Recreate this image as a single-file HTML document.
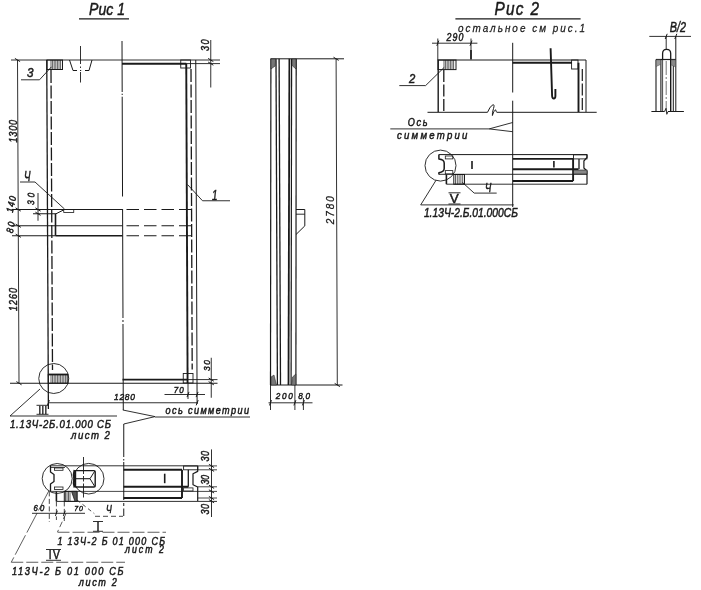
<!DOCTYPE html>
<html><head><meta charset="utf-8"><title>drawing</title>
<style>
html,body{margin:0;padding:0;background:#fff;}
svg{display:block;will-change:transform;}
text{font-family:"Liberation Sans",sans-serif;fill:#1a1a1a;stroke:#1a1a1a;}
</style></head><body>
<svg width="701" height="590" viewBox="0 0 701 590">
<rect x="0" y="0" width="701" height="590" fill="#ffffff"/>
<text transform="translate(89 15) rotate(0) scale(0.820 1)" font-size="17.18" font-style="italic" stroke-width="0.5">Рис 1</text>
<line x1="79" y1="18.8" x2="129" y2="18.8" stroke="#1a1a1a" stroke-width="1.3" stroke-linecap="butt"/>
<line x1="11" y1="60" x2="220" y2="60" stroke="#1a1a1a" stroke-width="0.9" stroke-linecap="butt"/>
<line x1="186" y1="63.6" x2="220" y2="63.6" stroke="#1a1a1a" stroke-width="0.9" stroke-linecap="butt"/>
<line x1="122" y1="63.8" x2="186.3" y2="63.8" stroke="#1a1a1a" stroke-width="1.9" stroke-linecap="butt"/>
<line x1="17.5" y1="60" x2="19" y2="383" stroke="#1a1a1a" stroke-width="0.9" stroke-linecap="butt"/>
<line x1="14.9" y1="58.4" x2="20.1" y2="61.6" stroke="#1a1a1a" stroke-width="1.0" stroke-linecap="butt"/>
<line x1="15.5877" y1="207.9" x2="20.7877" y2="211.1" stroke="#1a1a1a" stroke-width="1.0" stroke-linecap="butt"/>
<line x1="15.662450000000002" y1="224.15" x2="20.862450000000003" y2="227.35" stroke="#1a1a1a" stroke-width="1.0" stroke-linecap="butt"/>
<line x1="15.708450000000001" y1="234.15" x2="20.908450000000002" y2="237.35" stroke="#1a1a1a" stroke-width="1.0" stroke-linecap="butt"/>
<line x1="16.386719999999997" y1="381.59999999999997" x2="21.58672" y2="384.8" stroke="#1a1a1a" stroke-width="1.0" stroke-linecap="butt"/>
<line x1="46.75" y1="60" x2="48.4" y2="409" stroke="#1a1a1a" stroke-width="1.3" stroke-linecap="butt"/>
<line x1="51" y1="70" x2="52.5" y2="370" stroke="#1a1a1a" stroke-width="1.3" stroke-dasharray="13 2.5" stroke-linecap="butt"/>
<rect x="47" y="60" width="15.5" height="9.5" fill="none" stroke="#1a1a1a" stroke-width="1.0"/>
<line x1="51" y1="60" x2="51" y2="69.5" stroke="#1a1a1a" stroke-width="0.7" stroke-linecap="butt"/>
<line x1="52.6" y1="60" x2="52.6" y2="69.5" stroke="#1a1a1a" stroke-width="0.7" stroke-linecap="butt"/>
<line x1="54.2" y1="60" x2="54.2" y2="69.5" stroke="#1a1a1a" stroke-width="0.7" stroke-linecap="butt"/>
<line x1="55.8" y1="60" x2="55.8" y2="69.5" stroke="#1a1a1a" stroke-width="0.7" stroke-linecap="butt"/>
<line x1="57.4" y1="60" x2="57.4" y2="69.5" stroke="#1a1a1a" stroke-width="0.7" stroke-linecap="butt"/>
<line x1="59.0" y1="60" x2="59.0" y2="69.5" stroke="#1a1a1a" stroke-width="0.7" stroke-linecap="butt"/>
<line x1="60.6" y1="60" x2="60.6" y2="69.5" stroke="#1a1a1a" stroke-width="0.7" stroke-linecap="butt"/>
<text transform="translate(27 76.5) rotate(0) scale(0.881 1)" font-size="13.27" font-style="italic" stroke-width="0.5">3</text>
<path d="M21,79.8 L39.5,79.8 L51.5,66.8" fill="none" stroke="#1a1a1a" stroke-width="0.9" stroke-linejoin="round"/>
<line x1="69.5" y1="60" x2="73" y2="70.5" stroke="#1a1a1a" stroke-width="1.0" stroke-linecap="butt"/>
<line x1="92" y1="60" x2="89" y2="70.5" stroke="#1a1a1a" stroke-width="1.0" stroke-linecap="butt"/>
<line x1="73" y1="70.5" x2="77" y2="70.5" stroke="#1a1a1a" stroke-width="1.0" stroke-linecap="butt"/>
<line x1="80" y1="70.5" x2="81.2" y2="70.5" stroke="#1a1a1a" stroke-width="1.0" stroke-linecap="butt"/>
<line x1="85" y1="70.5" x2="89" y2="70.5" stroke="#1a1a1a" stroke-width="1.0" stroke-linecap="butt"/>
<line x1="80.5" y1="46" x2="80.5" y2="64" stroke="#1a1a1a" stroke-width="0.9" stroke-linecap="butt"/>
<line x1="80.5" y1="66.5" x2="80.5" y2="68" stroke="#1a1a1a" stroke-width="0.9" stroke-linecap="butt"/>
<line x1="80.5" y1="72" x2="80.5" y2="82.5" stroke="#1a1a1a" stroke-width="0.9" stroke-linecap="butt"/>
<line x1="122.0" y1="41" x2="122.1785" y2="92" stroke="#1a1a1a" stroke-width="1.0" stroke-linecap="butt"/>
<line x1="122.18445" y1="93.7" x2="122.189" y2="95" stroke="#1a1a1a" stroke-width="1.0" stroke-linecap="butt"/>
<line x1="122.19495" y1="96.7" x2="122.54425" y2="196.5" stroke="#1a1a1a" stroke-width="1.0" stroke-linecap="butt"/>
<line x1="122.588" y1="209" x2="122.9695" y2="318" stroke="#1a1a1a" stroke-width="1.0" stroke-linecap="butt"/>
<line x1="122.9765" y1="320" x2="122.9835" y2="322" stroke="#1a1a1a" stroke-width="1.0" stroke-linecap="butt"/>
<line x1="122.9905" y1="324" x2="123.2915" y2="410" stroke="#1a1a1a" stroke-width="1.0" stroke-linecap="butt"/>
<line x1="186.25" y1="63.8" x2="187.6" y2="383" stroke="#1a1a1a" stroke-width="1.9" stroke-linecap="butt"/>
<line x1="191" y1="69" x2="192.2" y2="369.5" stroke="#1a1a1a" stroke-width="1.3" stroke-dasharray="13 2.5" stroke-linecap="butt"/>
<line x1="195.75" y1="60" x2="197.1" y2="404" stroke="#1a1a1a" stroke-width="1.0" stroke-linecap="butt"/>
<rect x="180.75" y="60" width="9.75" height="8" fill="none" stroke="#1a1a1a" stroke-width="0.9"/>
<line x1="210.75" y1="40" x2="210.75" y2="87.5" stroke="#1a1a1a" stroke-width="0.9" stroke-linecap="butt"/>
<line x1="208.15" y1="58.4" x2="213.35" y2="61.6" stroke="#1a1a1a" stroke-width="1.0" stroke-linecap="butt"/>
<line x1="208.15" y1="62.0" x2="213.35" y2="65.2" stroke="#1a1a1a" stroke-width="1.0" stroke-linecap="butt"/>
<text transform="translate(208.6 51) rotate(-90) scale(0.860 1)" font-size="10.47" font-style="italic" stroke-width="0.5" textLength="13.4" lengthAdjust="spacing">30</text>
<line x1="11.5" y1="209.5" x2="122.5" y2="209.5" stroke="#1a1a1a" stroke-width="1.1" stroke-linecap="butt"/>
<line x1="126.5" y1="209.5" x2="196" y2="209.5" stroke="#1a1a1a" stroke-width="1.1" stroke-dasharray="12.5 5" stroke-linecap="butt"/>
<line x1="33" y1="213.75" x2="56" y2="213.75" stroke="#1a1a1a" stroke-width="1.0" stroke-linecap="butt"/>
<line x1="56" y1="213.75" x2="64.5" y2="209.5" stroke="#1a1a1a" stroke-width="1.0" stroke-linecap="butt"/>
<rect x="63.75" y="209.5" width="10.0" height="3.0" fill="none" stroke="#1a1a1a" stroke-width="0.8"/>
<line x1="55.5" y1="213.75" x2="55.5" y2="235.75" stroke="#1a1a1a" stroke-width="1.6" stroke-linecap="butt"/>
<line x1="11.5" y1="225.75" x2="122.5" y2="225.75" stroke="#1a1a1a" stroke-width="1.1" stroke-linecap="butt"/>
<line x1="126.5" y1="225.75" x2="196" y2="225.75" stroke="#1a1a1a" stroke-width="1.1" stroke-dasharray="12.5 5" stroke-linecap="butt"/>
<line x1="12" y1="235.75" x2="55.5" y2="235.75" stroke="#1a1a1a" stroke-width="1.0" stroke-linecap="butt"/>
<line x1="55.5" y1="235.75" x2="122.5" y2="235.75" stroke="#1a1a1a" stroke-width="1.6" stroke-linecap="butt"/>
<line x1="126.5" y1="235.75" x2="196" y2="235.75" stroke="#1a1a1a" stroke-width="1.1" stroke-dasharray="12.5 5" stroke-linecap="butt"/>
<line x1="38" y1="193" x2="38" y2="220.75" stroke="#1a1a1a" stroke-width="0.9" stroke-linecap="butt"/>
<line x1="35.4" y1="207.9" x2="40.6" y2="211.1" stroke="#1a1a1a" stroke-width="1.0" stroke-linecap="butt"/>
<line x1="35.4" y1="212.15" x2="40.6" y2="215.35" stroke="#1a1a1a" stroke-width="1.0" stroke-linecap="butt"/>
<text transform="translate(34 205) rotate(-88) scale(0.860 1)" font-size="9.50" font-style="italic" stroke-width="0.5" textLength="14.0" lengthAdjust="spacing">30</text>
<text transform="translate(12.8 213) rotate(-78) scale(0.860 1)" font-size="9.78" font-style="italic" stroke-width="0.5" textLength="19.2" lengthAdjust="spacing">140</text>
<text transform="translate(12.8 233.5) rotate(-78) scale(0.860 1)" font-size="9.78" font-style="italic" stroke-width="0.5" textLength="12.8" lengthAdjust="spacing">80</text>
<text transform="translate(24 181) rotate(0) scale(0.691 1)" font-size="13.97" font-style="italic" stroke-width="0.5">Ч</text>
<path d="M20,182 L35,182 L64.5,209" fill="none" stroke="#1a1a1a" stroke-width="0.9" stroke-linejoin="round"/>
<path d="M187.5,184.5 L202.5,200.75 L230,200.75" fill="none" stroke="#1a1a1a" stroke-width="0.9" stroke-linejoin="round"/>
<text transform="translate(212 199.5) rotate(0) scale(0.644 1)" font-size="15.36" font-style="italic" stroke-width="0.5">1</text>
<text transform="translate(17.2 142.5) rotate(-90) scale(0.860 1)" font-size="10.47" font-style="italic" stroke-width="0.5" textLength="26.2" lengthAdjust="spacing">1300</text>
<text transform="translate(17.2 311) rotate(-90) scale(0.860 1)" font-size="10.47" font-style="italic" stroke-width="0.5" textLength="26.7" lengthAdjust="spacing">1260</text>
<line x1="10" y1="383.25" x2="217.5" y2="383.25" stroke="#1a1a1a" stroke-width="1.0" stroke-linecap="butt"/>
<line x1="122.5" y1="379.6" x2="187.5" y2="379.6" stroke="#1a1a1a" stroke-width="1.9" stroke-linecap="butt"/>
<line x1="187.5" y1="379.6" x2="217.5" y2="379.6" stroke="#1a1a1a" stroke-width="0.9" stroke-linecap="butt"/>
<rect x="183.25" y="373.5" width="9.75" height="9.5" fill="none" stroke="#1a1a1a" stroke-width="0.9"/>
<circle cx="53.75" cy="378.5" r="15" fill="none" stroke="#1a1a1a" stroke-width="0.9"/>
<rect x="48.25" y="374.5" width="19.75" height="8.75" fill="none" stroke="#1a1a1a" stroke-width="1.0"/>
<line x1="48.25" y1="374.5" x2="68" y2="374.5" stroke="#1a1a1a" stroke-width="1.8" stroke-linecap="butt"/>
<line x1="51" y1="374.5" x2="51" y2="383.25" stroke="#1a1a1a" stroke-width="0.7" stroke-linecap="butt"/>
<line x1="52.6" y1="374.5" x2="52.6" y2="383.25" stroke="#1a1a1a" stroke-width="0.7" stroke-linecap="butt"/>
<line x1="54.2" y1="374.5" x2="54.2" y2="383.25" stroke="#1a1a1a" stroke-width="0.7" stroke-linecap="butt"/>
<line x1="55.8" y1="374.5" x2="55.8" y2="383.25" stroke="#1a1a1a" stroke-width="0.7" stroke-linecap="butt"/>
<line x1="57.4" y1="374.5" x2="57.4" y2="383.25" stroke="#1a1a1a" stroke-width="0.7" stroke-linecap="butt"/>
<line x1="59.0" y1="374.5" x2="59.0" y2="383.25" stroke="#1a1a1a" stroke-width="0.7" stroke-linecap="butt"/>
<line x1="60.6" y1="374.5" x2="60.6" y2="383.25" stroke="#1a1a1a" stroke-width="0.7" stroke-linecap="butt"/>
<line x1="62.2" y1="374.5" x2="62.2" y2="383.25" stroke="#1a1a1a" stroke-width="0.7" stroke-linecap="butt"/>
<line x1="63.8" y1="374.5" x2="63.8" y2="383.25" stroke="#1a1a1a" stroke-width="0.7" stroke-linecap="butt"/>
<line x1="65.4" y1="374.5" x2="65.4" y2="383.25" stroke="#1a1a1a" stroke-width="0.7" stroke-linecap="butt"/>
<line x1="67.0" y1="374.5" x2="67.0" y2="383.25" stroke="#1a1a1a" stroke-width="0.7" stroke-linecap="butt"/>
<line x1="40" y1="389" x2="10" y2="416" stroke="#1a1a1a" stroke-width="0.9" stroke-linecap="butt"/>
<line x1="10" y1="416" x2="117" y2="416" stroke="#1a1a1a" stroke-width="0.9" stroke-linecap="butt"/>
<text transform="translate(38.5 413.7) rotate(0) scale(0.860 1)" font-size="10.47" font-style="normal" stroke-width="0.5" textLength="9.9" lengthAdjust="spacing">III</text>
<line x1="36.5" y1="405.3" x2="48.5" y2="405.3" stroke="#1a1a1a" stroke-width="0.9" stroke-linecap="butt"/>
<line x1="36.5" y1="414.3" x2="48.5" y2="414.3" stroke="#1a1a1a" stroke-width="0.9" stroke-linecap="butt"/>
<text transform="translate(10 428) rotate(0) scale(0.860 1)" font-size="11.17" font-style="italic" stroke-width="0.5" textLength="117.4" lengthAdjust="spacing">1.13Ч-2Б.01.000 СБ</text>
<text transform="translate(71 438.5) rotate(0) scale(0.860 1)" font-size="11.18" font-style="italic" stroke-width="0.5" textLength="45.3" lengthAdjust="spacing">лист 2</text>
<line x1="48.25" y1="402.75" x2="197.5" y2="402.75" stroke="#1a1a1a" stroke-width="0.9" stroke-linecap="butt"/>
<line x1="47.4" y1="405.35" x2="49.4" y2="400.15" stroke="#1a1a1a" stroke-width="1.0" stroke-linecap="butt"/>
<line x1="196.2" y1="405.35" x2="198.2" y2="400.15" stroke="#1a1a1a" stroke-width="1.0" stroke-linecap="butt"/>
<text transform="translate(114 400) rotate(0) scale(0.860 1)" font-size="9.78" font-style="italic" stroke-width="0.5" textLength="24.4" lengthAdjust="spacing">1280</text>
<line x1="211.25" y1="357.75" x2="211.25" y2="397.75" stroke="#1a1a1a" stroke-width="0.9" stroke-linecap="butt"/>
<line x1="208.65" y1="378.0" x2="213.85" y2="381.20000000000005" stroke="#1a1a1a" stroke-width="1.0" stroke-linecap="butt"/>
<line x1="208.65" y1="381.65" x2="213.85" y2="384.85" stroke="#1a1a1a" stroke-width="1.0" stroke-linecap="butt"/>
<text transform="translate(210 371) rotate(-90) scale(0.860 1)" font-size="9.78" font-style="italic" stroke-width="0.5" textLength="12.8" lengthAdjust="spacing">30</text>
<line x1="164.5" y1="394.5" x2="205" y2="394.5" stroke="#1a1a1a" stroke-width="0.9" stroke-linecap="butt"/>
<line x1="188" y1="383" x2="188" y2="399" stroke="#1a1a1a" stroke-width="0.9" stroke-linecap="butt"/>
<line x1="187.0" y1="397.1" x2="189.0" y2="391.9" stroke="#1a1a1a" stroke-width="1.0" stroke-linecap="butt"/>
<line x1="196.1" y1="397.1" x2="198.1" y2="391.9" stroke="#1a1a1a" stroke-width="1.0" stroke-linecap="butt"/>
<text transform="translate(173.75 392.7) rotate(0) scale(0.860 1)" font-size="9.36" font-style="italic" stroke-width="0.5" textLength="11.6" lengthAdjust="spacing">70</text>
<path d="M122.8,410 L155,416.6 L123.75,424" fill="none" stroke="#1a1a1a" stroke-width="0.9" stroke-linejoin="round"/>
<line x1="155" y1="417" x2="250" y2="417" stroke="#1a1a1a" stroke-width="0.9" stroke-linecap="butt"/>
<text transform="translate(165.5 414) rotate(0) scale(0.860 1)" font-size="10.60" font-style="italic" stroke-width="0.5" textLength="97.1" lengthAdjust="spacing">ось симметрии</text>
<line x1="123.75" y1="424" x2="123.75" y2="457" stroke="#1a1a1a" stroke-width="1.0" stroke-linecap="butt"/>
<line x1="123.75" y1="459" x2="123.75" y2="460.5" stroke="#1a1a1a" stroke-width="1.0" stroke-linecap="butt"/>
<line x1="123.75" y1="462" x2="123.75" y2="500" stroke="#1a1a1a" stroke-width="1.0" stroke-linecap="butt"/>
<line x1="123.75" y1="503" x2="123.75" y2="506" stroke="#1a1a1a" stroke-width="1.0" stroke-linecap="butt"/>
<line x1="123.75" y1="508.5" x2="123.75" y2="516" stroke="#1a1a1a" stroke-width="1.0" stroke-linecap="butt"/>
<line x1="50" y1="465.8" x2="197.7" y2="465.8" stroke="#1a1a1a" stroke-width="0.9" stroke-linecap="butt"/>
<path d="M50.5,465.6 L50.5,472 L54,474.5 L54,481.5 L50.5,484 L50.5,491" fill="none" stroke="#1a1a1a" stroke-width="1.3" stroke-linejoin="round"/>
<rect x="54.5" y="468" width="8.5" height="2.3000000000000114" fill="none" stroke="#1a1a1a" stroke-width="0.8"/>
<line x1="51" y1="467.5" x2="65" y2="467.5" stroke="#1a1a1a" stroke-width="0.8" stroke-linecap="butt"/>
<rect x="54.5" y="487" width="8.5" height="2.5" fill="none" stroke="#1a1a1a" stroke-width="0.8"/>
<circle cx="57.2" cy="478.5" r="15" fill="none" stroke="#1a1a1a" stroke-width="0.9"/>
<circle cx="88.7" cy="478.7" r="15.3" fill="none" stroke="#1a1a1a" stroke-width="0.9"/>
<path d="M75.5,470.6 L94,470.6 Q95.2,470.6 95.2,471.8 L95.2,485.8 Q95.2,487 94,487 L75.5,487 Z" fill="none" stroke="#1a1a1a" stroke-width="1.4" stroke-linejoin="round"/>
<line x1="75" y1="478.7" x2="90" y2="478.7" stroke="#1a1a1a" stroke-width="1.1" stroke-linecap="butt"/>
<line x1="90" y1="478.7" x2="94.8" y2="471" stroke="#1a1a1a" stroke-width="1.0" stroke-linecap="butt"/>
<line x1="90" y1="478.7" x2="94.8" y2="486.6" stroke="#1a1a1a" stroke-width="1.0" stroke-linecap="butt"/>
<path d="M74.5,470 Q73,474.5 74.5,478.7 Q73,483 74.5,487.5" fill="none" stroke="#1a1a1a" stroke-width="2.0" stroke-linejoin="round"/>
<line x1="83.5" y1="457" x2="83.5" y2="474" stroke="#1a1a1a" stroke-width="0.9" stroke-linecap="butt"/>
<line x1="83.5" y1="476" x2="83.5" y2="481.5" stroke="#1a1a1a" stroke-width="0.9" stroke-linecap="butt"/>
<line x1="83.5" y1="483.5" x2="83.5" y2="497.5" stroke="#1a1a1a" stroke-width="0.9" stroke-linecap="butt"/>
<line x1="50" y1="491.4" x2="217" y2="491.4" stroke="#1a1a1a" stroke-width="0.8" stroke-linecap="butt"/>
<line x1="56.4" y1="501.4" x2="217" y2="501.4" stroke="#1a1a1a" stroke-width="0.9" stroke-linecap="butt"/>
<rect x="64.3" y="491.4" width="12.700000000000003" height="10.0" fill="none" stroke="#1a1a1a" stroke-width="1.0"/>
<line x1="65.5" y1="491.4" x2="65.5" y2="501.4" stroke="#1a1a1a" stroke-width="0.7" stroke-linecap="butt"/>
<line x1="67.0" y1="491.4" x2="67.0" y2="501.4" stroke="#1a1a1a" stroke-width="0.7" stroke-linecap="butt"/>
<line x1="68.5" y1="491.4" x2="68.5" y2="501.4" stroke="#1a1a1a" stroke-width="0.7" stroke-linecap="butt"/>
<line x1="70.0" y1="491.4" x2="70.0" y2="501.4" stroke="#1a1a1a" stroke-width="0.7" stroke-linecap="butt"/>
<path d="M71.5,491.4 L77,491.4 L77,501.4 L75,501.4 Z" fill="#555" stroke="#1a1a1a" stroke-width="0.8" stroke-linejoin="round"/>
<line x1="56.4" y1="491.4" x2="56.4" y2="501.4" stroke="#1a1a1a" stroke-width="1.6" stroke-linecap="butt"/>
<line x1="49.3" y1="491.4" x2="49.3" y2="522" stroke="#1a1a1a" stroke-width="0.8" stroke-dasharray="5 2.5" stroke-linecap="butt"/>
<line x1="56.4" y1="501.4" x2="56.4" y2="520" stroke="#1a1a1a" stroke-width="0.8" stroke-dasharray="5 2.5" stroke-linecap="butt"/>
<line x1="64.3" y1="501.4" x2="64.3" y2="521" stroke="#1a1a1a" stroke-width="0.8" stroke-dasharray="5 2.5" stroke-linecap="butt"/>
<text transform="translate(33.6 510.7) rotate(0) scale(0.860 1)" font-size="8.94" font-style="italic" stroke-width="0.5" textLength="12.4" lengthAdjust="spacing">60</text>
<line x1="32" y1="513.3" x2="85" y2="513.3" stroke="#1a1a1a" stroke-width="0.9" stroke-linecap="butt"/>
<line x1="55.4" y1="515.9" x2="57.4" y2="510.69999999999993" stroke="#1a1a1a" stroke-width="1.0" stroke-linecap="butt"/>
<line x1="63.3" y1="515.9" x2="65.3" y2="510.69999999999993" stroke="#1a1a1a" stroke-width="1.0" stroke-linecap="butt"/>
<text transform="translate(74.3 510.7) rotate(0) scale(0.860 1)" font-size="8.10" font-style="italic" stroke-width="0.5" textLength="10.0" lengthAdjust="spacing">70</text>
<text transform="translate(106 512.8) rotate(0) scale(0.771 1)" font-size="11.17" font-style="italic" stroke-width="0.5">Ч</text>
<path d="M77,500 L94.3,513.6" fill="none" stroke="#1a1a1a" stroke-width="0.8" stroke-dasharray="4 3" stroke-linejoin="round"/>
<line x1="95" y1="516.3" x2="123" y2="516.3" stroke="#1a1a1a" stroke-width="0.8" stroke-dasharray="5 3" stroke-linecap="butt"/>
<line x1="123.5" y1="469.8" x2="182" y2="469.8" stroke="#1a1a1a" stroke-width="1.9" stroke-linecap="butt"/>
<line x1="123.5" y1="486.8" x2="188.3" y2="486.8" stroke="#1a1a1a" stroke-width="1.9" stroke-linecap="butt"/>
<line x1="123.5" y1="498" x2="182" y2="498" stroke="#1a1a1a" stroke-width="1.9" stroke-linecap="butt"/>
<line x1="182" y1="469.8" x2="182" y2="498" stroke="#1a1a1a" stroke-width="1.9" stroke-linecap="butt"/>
<line x1="188.3" y1="469.8" x2="188.3" y2="486.8" stroke="#1a1a1a" stroke-width="1.3" stroke-linecap="butt"/>
<path d="M197.7,465.9 L197.7,471.4 L193,473.7 L193,484.7 L197.7,487 L197.7,500.9" fill="none" stroke="#1a1a1a" stroke-width="1.2" stroke-linejoin="round"/>
<rect x="183.6" y="466" width="14.099999999999994" height="3.8000000000000114" fill="none" stroke="#1a1a1a" stroke-width="0.9"/>
<rect x="183.6" y="487.9" width="9.400000000000006" height="3.1000000000000227" fill="none" stroke="#1a1a1a" stroke-width="0.8"/>
<line x1="164.7" y1="473.7" x2="164.7" y2="483.2" stroke="#1a1a1a" stroke-width="1.6" stroke-linecap="butt"/>
<line x1="211.5" y1="449.4" x2="211.5" y2="517" stroke="#1a1a1a" stroke-width="0.9" stroke-linecap="butt"/>
<line x1="208.9" y1="464.29999999999995" x2="214.1" y2="467.5" stroke="#1a1a1a" stroke-width="1.0" stroke-linecap="butt"/>
<line x1="208.9" y1="468.2" x2="214.1" y2="471.40000000000003" stroke="#1a1a1a" stroke-width="1.0" stroke-linecap="butt"/>
<line x1="208.9" y1="485.2" x2="214.1" y2="488.40000000000003" stroke="#1a1a1a" stroke-width="1.0" stroke-linecap="butt"/>
<line x1="208.9" y1="489.79999999999995" x2="214.1" y2="493.0" stroke="#1a1a1a" stroke-width="1.0" stroke-linecap="butt"/>
<line x1="208.9" y1="496.4" x2="214.1" y2="499.6" stroke="#1a1a1a" stroke-width="1.0" stroke-linecap="butt"/>
<line x1="208.9" y1="499.59999999999997" x2="214.1" y2="502.8" stroke="#1a1a1a" stroke-width="1.0" stroke-linecap="butt"/>
<line x1="197.7" y1="465.9" x2="217" y2="465.9" stroke="#1a1a1a" stroke-width="0.8" stroke-linecap="butt"/>
<line x1="197.7" y1="469.8" x2="217" y2="469.8" stroke="#1a1a1a" stroke-width="0.8" stroke-linecap="butt"/>
<line x1="197.7" y1="486.8" x2="217" y2="486.8" stroke="#1a1a1a" stroke-width="0.8" stroke-linecap="butt"/>
<line x1="197.7" y1="498" x2="217" y2="498" stroke="#1a1a1a" stroke-width="0.8" stroke-linecap="butt"/>
<text transform="translate(208.6 461.5) rotate(-90) scale(0.860 1)" font-size="10.47" font-style="italic" stroke-width="0.5" textLength="12.2" lengthAdjust="spacing">30</text>
<text transform="translate(208.6 484.5) rotate(-90) scale(0.815 1)" font-size="10.47" font-style="italic" stroke-width="0.5">30</text>
<text transform="translate(208.6 514.5) rotate(-90) scale(0.860 1)" font-size="10.47" font-style="italic" stroke-width="0.5" textLength="12.2" lengthAdjust="spacing">30</text>
<line x1="48.75" y1="491" x2="11.25" y2="562.25" stroke="#1a1a1a" stroke-width="0.7" stroke-dasharray="22 3" stroke-linecap="butt"/>
<line x1="11.25" y1="562.25" x2="125" y2="562.25" stroke="#1a1a1a" stroke-width="0.7" stroke-dasharray="12 3" stroke-linecap="butt"/>
<text transform="translate(48.75 559.3) rotate(0) scale(0.860 1)" font-size="11.87" font-style="normal" stroke-width="0.5" textLength="13.0" lengthAdjust="spacing">IV</text>
<line x1="46" y1="549.5" x2="61" y2="549.5" stroke="#1a1a1a" stroke-width="0.9" stroke-linecap="butt"/>
<line x1="46" y1="560.3" x2="61" y2="560.3" stroke="#1a1a1a" stroke-width="0.9" stroke-linecap="butt"/>
<text transform="translate(12 575.2) rotate(0) scale(0.860 1)" font-size="10.75" font-style="italic" stroke-width="0.5" textLength="129.7" lengthAdjust="spacing">113Ч-2 Б 01 000 СБ</text>
<text transform="translate(78.75 586) rotate(0) scale(0.860 1)" font-size="10.60" font-style="italic" stroke-width="0.5" textLength="44.2" lengthAdjust="spacing">лист 2</text>
<line x1="66" y1="513.5" x2="57.5" y2="532" stroke="#1a1a1a" stroke-width="0.7" stroke-dasharray="6 3" stroke-linecap="butt"/>
<line x1="57.5" y1="532.25" x2="166" y2="532.25" stroke="#1a1a1a" stroke-width="0.7" stroke-dasharray="12 3" stroke-linecap="butt"/>
<text transform="translate(96.5 530.7) rotate(0) scale(0.910 1)" font-size="11.87" font-style="normal" stroke-width="0.5">I</text>
<line x1="93" y1="521.5" x2="103" y2="521.5" stroke="#1a1a1a" stroke-width="0.9" stroke-linecap="butt"/>
<line x1="93" y1="531.3" x2="103" y2="531.3" stroke="#1a1a1a" stroke-width="0.9" stroke-linecap="butt"/>
<text transform="translate(57.5 544.75) rotate(0) scale(0.860 1)" font-size="10.47" font-style="italic" stroke-width="0.5" textLength="125.0" lengthAdjust="spacing">1 13Ч-2 Б 01 000 СБ</text>
<text transform="translate(125 552.8) rotate(0) scale(0.860 1)" font-size="10.21" font-style="italic" stroke-width="0.5" textLength="45.3" lengthAdjust="spacing">лист 2</text>
<line x1="270.5" y1="58.8" x2="344" y2="58.8" stroke="#1a1a1a" stroke-width="1.0" stroke-linecap="butt"/>
<line x1="270.5" y1="385" x2="342.5" y2="385" stroke="#1a1a1a" stroke-width="1.0" stroke-linecap="butt"/>
<line x1="270.9" y1="58.8" x2="270.5" y2="385" stroke="#1a1a1a" stroke-width="1.2" stroke-linecap="butt"/>
<line x1="276" y1="58.8" x2="277.4" y2="385" stroke="#1a1a1a" stroke-width="1.3" stroke-linecap="butt"/>
<line x1="279.1" y1="58.8" x2="280.5" y2="385" stroke="#1a1a1a" stroke-width="1.3" stroke-linecap="butt"/>
<line x1="289.4" y1="58.8" x2="288.5" y2="385" stroke="#1a1a1a" stroke-width="1.8" stroke-linecap="butt"/>
<line x1="291.6" y1="58.8" x2="291.1" y2="385" stroke="#1a1a1a" stroke-width="1.2" stroke-linecap="butt"/>
<line x1="296.2" y1="58.8" x2="295.9" y2="385" stroke="#1a1a1a" stroke-width="1.2" stroke-linecap="butt"/>
<path d="M271,59 L275.6,59 L275.2,66 L271,69 Z" fill="#777" stroke="#1a1a1a" stroke-width="0.5" stroke-linejoin="round"/>
<path d="M292,59 L296,59 L296,69 L292.5,66 Z" fill="#777" stroke="#1a1a1a" stroke-width="0.5" stroke-linejoin="round"/>
<path d="M271,385 L271,377 L274,375 L276.5,385 Z" fill="#777" stroke="#1a1a1a" stroke-width="0.5" stroke-linejoin="round"/>
<path d="M291.5,385 L292.5,377 L295.8,374 L295.8,385 Z" fill="#777" stroke="#1a1a1a" stroke-width="0.5" stroke-linejoin="round"/>
<path d="M296,209.5 L304.8,209.5 L304.8,225.9 L296,234.5" fill="none" stroke="#1a1a1a" stroke-width="1.0" stroke-linejoin="round"/>
<line x1="296" y1="214.2" x2="304.8" y2="214.2" stroke="#1a1a1a" stroke-width="0.9" stroke-linecap="butt"/>
<line x1="336.1" y1="58.8" x2="337.3" y2="385" stroke="#1a1a1a" stroke-width="0.9" stroke-linecap="butt"/>
<line x1="333.5" y1="57.199999999999996" x2="338.70000000000005" y2="60.4" stroke="#1a1a1a" stroke-width="1.0" stroke-linecap="butt"/>
<line x1="334.7" y1="383.4" x2="339.90000000000003" y2="386.6" stroke="#1a1a1a" stroke-width="1.0" stroke-linecap="butt"/>
<text transform="translate(333.7 224.3) rotate(-90) scale(0.860 1)" font-size="11.59" font-style="italic" stroke-width="0.3" textLength="32.6" lengthAdjust="spacing">2780</text>
<line x1="270.5" y1="385" x2="270.5" y2="410" stroke="#1a1a1a" stroke-width="0.9" stroke-linecap="butt"/>
<line x1="294.9" y1="385" x2="294.9" y2="410" stroke="#1a1a1a" stroke-width="0.9" stroke-linecap="butt"/>
<line x1="303.4" y1="398" x2="303.4" y2="410" stroke="#1a1a1a" stroke-width="0.9" stroke-linecap="butt"/>
<line x1="268.5" y1="402.8" x2="312.5" y2="402.8" stroke="#1a1a1a" stroke-width="0.9" stroke-linecap="butt"/>
<line x1="269.5" y1="405.40000000000003" x2="271.5" y2="400.2" stroke="#1a1a1a" stroke-width="1.0" stroke-linecap="butt"/>
<line x1="293.9" y1="405.40000000000003" x2="295.9" y2="400.2" stroke="#1a1a1a" stroke-width="1.0" stroke-linecap="butt"/>
<line x1="302.4" y1="405.40000000000003" x2="304.4" y2="400.2" stroke="#1a1a1a" stroke-width="1.0" stroke-linecap="butt"/>
<text transform="translate(275.7 399) rotate(0) scale(0.860 1)" font-size="9.50" font-style="italic" stroke-width="0.5" textLength="19.8" lengthAdjust="spacing">200</text>
<text transform="translate(298.3 399) rotate(0) scale(0.860 1)" font-size="9.50" font-style="italic" stroke-width="0.5" textLength="13.6" lengthAdjust="spacing">80</text>
<text transform="translate(494.5 15) rotate(0) scale(0.860 1)" font-size="17.88" font-style="italic" stroke-width="0.5" textLength="51.7" lengthAdjust="spacing">Рис 2</text>
<line x1="455.4" y1="18.8" x2="580.6" y2="18.8" stroke="#1a1a1a" stroke-width="1.3" stroke-linecap="butt"/>
<text transform="translate(458 32) rotate(0) scale(0.860 1)" font-size="11.56" font-style="italic" stroke-width="0.25" textLength="147.7" lengthAdjust="spacing">остальное см рис.1</text>
<line x1="432" y1="43.2" x2="477.4" y2="43.2" stroke="#1a1a1a" stroke-width="0.9" stroke-linecap="butt"/>
<line x1="436.8" y1="45.800000000000004" x2="438.8" y2="40.6" stroke="#1a1a1a" stroke-width="1.0" stroke-linecap="butt"/>
<line x1="470.0" y1="45.800000000000004" x2="472.0" y2="40.6" stroke="#1a1a1a" stroke-width="1.0" stroke-linecap="butt"/>
<text transform="translate(446.4 40.7) rotate(0) scale(0.860 1)" font-size="10.20" font-style="italic" stroke-width="0.5" textLength="19.9" lengthAdjust="spacing">290</text>
<line x1="437.8" y1="38.5" x2="437.8" y2="60" stroke="#1a1a1a" stroke-width="0.9" stroke-linecap="butt"/>
<line x1="471" y1="38.5" x2="471" y2="50" stroke="#1a1a1a" stroke-width="0.9" stroke-linecap="butt"/>
<line x1="471" y1="50" x2="471" y2="59.5" stroke="#1a1a1a" stroke-width="1.8" stroke-linecap="butt"/>
<line x1="437.8" y1="60" x2="586" y2="60" stroke="#1a1a1a" stroke-width="1.0" stroke-linecap="butt"/>
<line x1="438.2" y1="60" x2="438.2" y2="112" stroke="#1a1a1a" stroke-width="1.4" stroke-linecap="butt"/>
<line x1="443.8" y1="70" x2="443.8" y2="112" stroke="#1a1a1a" stroke-width="1.3" stroke-dasharray="12 2.5" stroke-linecap="butt"/>
<rect x="438" y="60" width="18" height="9.599999999999994" fill="none" stroke="#1a1a1a" stroke-width="1.0"/>
<line x1="444" y1="60" x2="444" y2="69.6" stroke="#1a1a1a" stroke-width="0.7" stroke-linecap="butt"/>
<line x1="445.6" y1="60" x2="445.6" y2="69.6" stroke="#1a1a1a" stroke-width="0.7" stroke-linecap="butt"/>
<line x1="447.2" y1="60" x2="447.2" y2="69.6" stroke="#1a1a1a" stroke-width="0.7" stroke-linecap="butt"/>
<line x1="448.8" y1="60" x2="448.8" y2="69.6" stroke="#1a1a1a" stroke-width="0.7" stroke-linecap="butt"/>
<line x1="450.4" y1="60" x2="450.4" y2="69.6" stroke="#1a1a1a" stroke-width="0.7" stroke-linecap="butt"/>
<line x1="452.0" y1="60" x2="452.0" y2="69.6" stroke="#1a1a1a" stroke-width="0.7" stroke-linecap="butt"/>
<line x1="453.6" y1="60" x2="453.6" y2="69.6" stroke="#1a1a1a" stroke-width="0.7" stroke-linecap="butt"/>
<text transform="translate(409 83) rotate(0) scale(0.901 1)" font-size="12.57" font-style="italic" stroke-width="0.5">2</text>
<path d="M399.3,85.6 L425.6,85.6 L444.2,67.4" fill="none" stroke="#1a1a1a" stroke-width="0.9" stroke-linejoin="round"/>
<line x1="427.5" y1="112.3" x2="487.5" y2="112.3" stroke="#1a1a1a" stroke-width="1.0" stroke-linecap="butt"/>
<path d="M487.5,112.3 Q490,106 493,104.7 Q494.8,104.5 493.5,108.5 Q492,113 492.4,115.5 Q493.5,110.5 495.7,109.8 Q496,112.3 497,112.3" fill="none" stroke="#1a1a1a" stroke-width="1.0" stroke-linejoin="round"/>
<line x1="497" y1="112.3" x2="596.7" y2="112.3" stroke="#1a1a1a" stroke-width="1.0" stroke-linecap="butt"/>
<line x1="512.7" y1="42.8" x2="512.7" y2="92.5" stroke="#1a1a1a" stroke-width="1.0" stroke-linecap="butt"/>
<line x1="512.7" y1="100.7" x2="512.7" y2="207" stroke="#1a1a1a" stroke-width="1.0" stroke-linecap="butt"/>
<line x1="512.5" y1="62.7" x2="572" y2="62.7" stroke="#1a1a1a" stroke-width="1.9" stroke-linecap="butt"/>
<rect x="571.6" y="60" width="6.399999999999977" height="9" fill="none" stroke="#1a1a1a" stroke-width="0.9"/>
<line x1="578.5" y1="62.7" x2="578.5" y2="112" stroke="#1a1a1a" stroke-width="1.9" stroke-linecap="butt"/>
<line x1="582.3" y1="69" x2="582.3" y2="112" stroke="#1a1a1a" stroke-width="1.2" stroke-dasharray="12 2.5" stroke-linecap="butt"/>
<line x1="586" y1="60" x2="586" y2="112" stroke="#1a1a1a" stroke-width="1.0" stroke-linecap="butt"/>
<path d="M550.6,48.2 L552.1,96 Q552.3,98.5 553.8,98.5 Q555.4,98.5 555.4,96 L555.4,88.9" fill="none" stroke="#1a1a1a" stroke-width="1.9" stroke-linejoin="round"/>
<text transform="translate(407.8 125.7) rotate(0) scale(0.860 1)" font-size="10.61" font-style="italic" stroke-width="0.5" textLength="22.9" lengthAdjust="spacing">Ось</text>
<line x1="390.3" y1="128.9" x2="489.2" y2="128.9" stroke="#1a1a1a" stroke-width="0.9" stroke-linecap="butt"/>
<path d="M489.2,128.9 L512.7,122.5 M489.2,128.9 L512.7,131.7" fill="none" stroke="#1a1a1a" stroke-width="0.9" stroke-linejoin="round"/>
<text transform="translate(397 138.5) rotate(0) scale(0.860 1)" font-size="11.18" font-style="italic" stroke-width="0.5" textLength="81.9" lengthAdjust="spacing">симметрии</text>
<circle cx="440.5" cy="165.6" r="15.5" fill="none" stroke="#1a1a1a" stroke-width="0.9"/>
<line x1="438.9" y1="154.6" x2="587" y2="154.6" stroke="#1a1a1a" stroke-width="1.0" stroke-linecap="butt"/>
<line x1="438.9" y1="174.3" x2="587" y2="174.3" stroke="#1a1a1a" stroke-width="0.9" stroke-linecap="butt"/>
<line x1="446.4" y1="184.2" x2="587" y2="184.2" stroke="#1a1a1a" stroke-width="0.9" stroke-linecap="butt"/>
<path d="M438.9,154.6 L438.9,158.9 Q444.2,159.5 444.2,163 L444.2,168.6 Q444.2,172 438.9,172.8 L438.9,174.5" fill="none" stroke="#1a1a1a" stroke-width="1.5" stroke-linejoin="round"/>
<rect x="445.3" y="156" width="7.5" height="2.9000000000000057" fill="none" stroke="#1a1a1a" stroke-width="0.8"/>
<rect x="445.3" y="170.6" width="7.5" height="3.3000000000000114" fill="none" stroke="#1a1a1a" stroke-width="0.8"/>
<rect x="453.8" y="174.5" width="10.699999999999989" height="9.699999999999989" fill="none" stroke="#1a1a1a" stroke-width="1.0"/>
<line x1="455.5" y1="174.5" x2="455.5" y2="184.2" stroke="#1a1a1a" stroke-width="0.7" stroke-linecap="butt"/>
<line x1="457.3" y1="174.5" x2="457.3" y2="184.2" stroke="#1a1a1a" stroke-width="0.7" stroke-linecap="butt"/>
<line x1="459.1" y1="174.5" x2="459.1" y2="184.2" stroke="#1a1a1a" stroke-width="0.7" stroke-linecap="butt"/>
<line x1="460.9" y1="174.5" x2="460.9" y2="184.2" stroke="#1a1a1a" stroke-width="0.7" stroke-linecap="butt"/>
<line x1="462.7" y1="174.5" x2="462.7" y2="184.2" stroke="#1a1a1a" stroke-width="0.7" stroke-linecap="butt"/>
<line x1="446.4" y1="174.5" x2="446.4" y2="184.2" stroke="#1a1a1a" stroke-width="1.6" stroke-linecap="butt"/>
<line x1="472" y1="161" x2="472" y2="169" stroke="#1a1a1a" stroke-width="1.6" stroke-linecap="butt"/>
<text transform="translate(485 192) rotate(0) scale(0.705 1)" font-size="13.27" font-style="italic" stroke-width="0.5">Ч</text>
<path d="M462.4,182.4 L474.2,193.1 L496.7,193.1" fill="none" stroke="#1a1a1a" stroke-width="0.9" stroke-linejoin="round"/>
<text transform="translate(449.8 203.3) rotate(0) scale(1.000 1)" font-size="13.41" font-style="normal" stroke-width="0.5" textLength="9.4" lengthAdjust="spacing">V</text>
<line x1="448.5" y1="192.8" x2="460.5" y2="192.8" stroke="#1a1a1a" stroke-width="0.9" stroke-linecap="butt"/>
<line x1="448.5" y1="204" x2="460.5" y2="204" stroke="#1a1a1a" stroke-width="0.9" stroke-linecap="butt"/>
<line x1="436" y1="180.3" x2="420.7" y2="204.9" stroke="#1a1a1a" stroke-width="0.9" stroke-linecap="butt"/>
<line x1="420.7" y1="204.9" x2="513.8" y2="204.9" stroke="#1a1a1a" stroke-width="0.9" stroke-linecap="butt"/>
<text transform="translate(423.9 217.2) rotate(0) scale(0.818 1)" font-size="12.57" font-style="italic" stroke-width="0.5">1.13Ч-2.Б.01.000СБ</text>
<line x1="512.8" y1="158.9" x2="573.1" y2="158.9" stroke="#1a1a1a" stroke-width="1.9" stroke-linecap="butt"/>
<line x1="512.8" y1="169.2" x2="578.5" y2="169.2" stroke="#1a1a1a" stroke-width="1.9" stroke-linecap="butt"/>
<line x1="512.8" y1="181" x2="573.1" y2="181" stroke="#1a1a1a" stroke-width="1.9" stroke-linecap="butt"/>
<line x1="573.1" y1="158.9" x2="573.1" y2="181" stroke="#1a1a1a" stroke-width="1.9" stroke-linecap="butt"/>
<line x1="579" y1="158.9" x2="579" y2="169" stroke="#1a1a1a" stroke-width="1.3" stroke-linecap="butt"/>
<path d="M587,154.6 L587,157.4 L583.9,161 L583.9,168 L587,171 L587,184.2" fill="none" stroke="#1a1a1a" stroke-width="1.2" stroke-linejoin="round"/>
<rect x="573.5" y="154.8" width="13.5" height="4.099999999999994" fill="none" stroke="#1a1a1a" stroke-width="0.9"/>
<rect x="573.5" y="170" width="13.5" height="4" fill="#888" stroke="#1a1a1a" stroke-width="0.6"/>
<line x1="553.9" y1="161" x2="553.9" y2="167.5" stroke="#1a1a1a" stroke-width="1.6" stroke-linecap="butt"/>
<text transform="translate(669.7 32.4) rotate(0) scale(0.707 1)" font-size="15.36" font-style="italic" stroke-width="0.5">В/2</text>
<line x1="649.3" y1="36.4" x2="691" y2="36.4" stroke="#1a1a1a" stroke-width="0.9" stroke-linecap="butt"/>
<line x1="665.2" y1="39.0" x2="667.2" y2="33.8" stroke="#1a1a1a" stroke-width="1.0" stroke-linecap="butt"/>
<line x1="674.8" y1="39.0" x2="676.8" y2="33.8" stroke="#1a1a1a" stroke-width="1.0" stroke-linecap="butt"/>
<line x1="666.2" y1="36.4" x2="666.2" y2="49.5" stroke="#1a1a1a" stroke-width="0.9" stroke-linecap="butt"/>
<line x1="675.8" y1="36.4" x2="675.8" y2="111.5" stroke="#1a1a1a" stroke-width="1.0" stroke-linecap="butt"/>
<path d="M662.6,59.5 L662.6,53.5 Q662.6,49.4 666.6,49.4 Q670.7,49.4 670.7,53.5 L670.7,59.5" fill="none" stroke="#1a1a1a" stroke-width="1.3" stroke-linejoin="round"/>
<line x1="656" y1="59.5" x2="675.8" y2="59.5" stroke="#1a1a1a" stroke-width="1.2" stroke-linecap="butt"/>
<line x1="656" y1="59.5" x2="656" y2="111.5" stroke="#1a1a1a" stroke-width="1.1" stroke-linecap="butt"/>
<line x1="660.9" y1="59.5" x2="660.9" y2="111.5" stroke="#1a1a1a" stroke-width="1.1" stroke-linecap="butt"/>
<line x1="662.6" y1="59.5" x2="662.6" y2="111.5" stroke="#1a1a1a" stroke-width="0.8" stroke-linecap="butt"/>
<line x1="666.2" y1="61" x2="666.2" y2="111.5" stroke="#1a1a1a" stroke-width="0.6" stroke-dasharray="14 2 2 2" stroke-linecap="butt"/>
<line x1="670.7" y1="59.5" x2="670.7" y2="111.5" stroke="#1a1a1a" stroke-width="1.4" stroke-linecap="butt"/>
<line x1="673.3" y1="59.5" x2="673.3" y2="111.5" stroke="#1a1a1a" stroke-width="1.0" stroke-linecap="butt"/>
<path d="M656.3,59.8 L660.6,59.8 L660.6,64.5 L656.3,66.5 Z" fill="#999" stroke="#1a1a1a" stroke-width="0.3" stroke-linejoin="round"/>
<path d="M671,59.8 L675.6,59.8 L675.6,67 L671,65 Z" fill="#888" stroke="#1a1a1a" stroke-width="0.3" stroke-linejoin="round"/>
<line x1="651.4" y1="111.5" x2="664.5" y2="111.5" stroke="#1a1a1a" stroke-width="1.0" stroke-linecap="butt"/>
<path d="M664.5,111.5 L666,108.3 L666.8,114.3 L668,111.5" fill="none" stroke="#1a1a1a" stroke-width="0.9" stroke-linejoin="round"/>
<line x1="668" y1="111.5" x2="683.9" y2="111.5" stroke="#1a1a1a" stroke-width="1.0" stroke-linecap="butt"/>
</svg>
</body></html>
